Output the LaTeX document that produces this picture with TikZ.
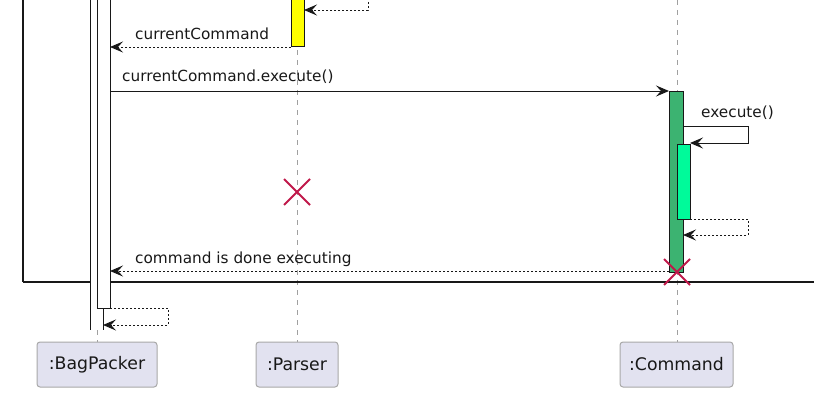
\documentclass[tikz,border=0pt]{standalone}
\usepackage{fontspec}
\setmainfont{DejaVu Sans}
\usetikzlibrary{arrows.meta}
\definecolor{ink}{HTML}{181818}
\definecolor{lifegray}{HTML}{A0A0A0}
\definecolor{boxfill}{HTML}{E2E2F0}
\definecolor{boxline}{HTML}{A8A8A8}
\definecolor{xred}{HTML}{C0184A}
\definecolor{barYellow}{HTML}{FFFF00}
\definecolor{barGreen}{HTML}{3CB371}
\definecolor{barSpring}{HTML}{00FA9A}
\tikzset{
  pbox/.style={draw=boxline, fill=boxfill, rounded corners=3pt, line width=1pt,
    minimum height=45pt, inner sep=0pt, text=ink,
    font=\fontsize{17.3}{20}\selectfont},
  msglabel/.style={inner sep=0pt, anchor=west, text=ink,
    font=\fontsize{15.3}{18}\selectfont},
  lifeline/.style={draw=lifegray, line width=0.9pt, dash pattern=on 5pt off 5pt},
  callmsg/.style={draw=ink, line width=1pt, -{Stealth[length=13pt,width=11pt,inset=5pt]}},
  retmsg/.style={draw=ink, line width=0.9pt, dash pattern=on 2pt off 2pt,
    -{Stealth[length=13pt,width=11pt,inset=5pt,line width=0.9pt]}},
  actbar/.style={draw=ink, line width=1pt},
  killx/.style={draw=xred, line width=2pt},
}
\begin{document}
\begin{tikzpicture}[x=1pt,y=-1pt]
\useasboundingbox (0,0) rectangle (814,412);
% lifelines
\draw[lifeline] (297,0) -- (297,342);
\draw[lifeline] (677,0) -- (677,342);
\draw[lifeline] (97,330) -- (97,342);
% frame
\draw[ink, line width=1.5pt] (23,-2) -- (23,282);
\draw[ink, line width=2.4pt] (23,282) -- (816,282);
% BagPacker activations
\fill[white] (90,-2) rectangle (103,330);
\draw[actbar] (90,-2) -- (90,330);
\draw[actbar] (103,-2) -- (103,330);
\draw[actbar, fill=white] (97,-2) -- (97,308) -- (110,308) -- (110,-2);
% Parser activation
\draw[actbar, fill=barYellow] (291,-2) -- (291,47) -- (304,47) -- (304,-2);
% Command activations
\draw[actbar, fill=barGreen] (669,91) rectangle (683,272);
\draw[actbar, fill=barSpring] (677,144) rectangle (690,219);
% named points
\coordinate (pTop) at (368,-2);
\coordinate (pCorner) at (368,10);
\coordinate (pIn) at (304,10);
\coordinate (pOut) at (291,47);
\coordinate (bIn) at (110,47);
\coordinate (bOut) at (110,91);
\coordinate (cIn) at (669,91);
\coordinate (cSelfOut) at (683,126);
\coordinate (cSelfA) at (748,126);
\coordinate (cSelfB) at (748,143);
\coordinate (cSelfIn) at (690,143);
\coordinate (cRetOut) at (690,219);
\coordinate (cRetA) at (748,219);
\coordinate (cRetB) at (748,235);
\coordinate (cRetIn) at (683,235);
\coordinate (cDone) at (669,271);
\coordinate (bDone) at (110,271);
\coordinate (bSelfOut) at (110,308);
\coordinate (bSelfA) at (168,308);
\coordinate (bSelfB) at (168,325);
\coordinate (bSelfIn) at (103,325);
% messages
\draw[retmsg] (pTop) -- (pCorner) -- (pIn);
\draw[retmsg] (pOut) -- (bIn);
\node[msglabel] (lblCur) at (135,34) {currentCommand};
\draw[callmsg] (bOut) -- (cIn);
\node[msglabel] (lblExec) at (122,77) {currentCommand.execute()};
\draw[callmsg] (cSelfOut) -- (cSelfA) -- (cSelfB) -- (cSelfIn);
\node[msglabel] (lblSelf) at (701,113) {execute()};
\draw[retmsg] (cRetOut) -- (cRetA) -- (cRetB) -- (cRetIn);
\draw[retmsg] (cDone) -- (bDone);
\node[msglabel] (lblDone) at (135,259) {command is done executing};
\draw[retmsg] (bSelfOut) -- (bSelfA) -- (bSelfB) -- (bSelfIn);
% destroy marks
\coordinate (xParser) at (297,192);
\coordinate (xCommand) at (677,272);
\draw[killx] ([shift={(-13,-13)}]xParser) -- ([shift={(13,13)}]xParser)
             ([shift={(-13,13)}]xParser) -- ([shift={(13,-13)}]xParser);
\draw[killx] ([shift={(-13,-13)}]xCommand) -- ([shift={(13,13)}]xCommand)
             ([shift={(-13,13)}]xCommand) -- ([shift={(13,-13)}]xCommand);
% participants
\node[pbox, minimum width=120pt] (bag) at (97,364.5) {:BagPacker};
\node[pbox, minimum width=82pt] (parser) at (297,364.5) {:Parser};
\node[pbox, minimum width=113pt] (cmd) at (676.5,364.5) {:Command};
\end{tikzpicture}
\end{document}
